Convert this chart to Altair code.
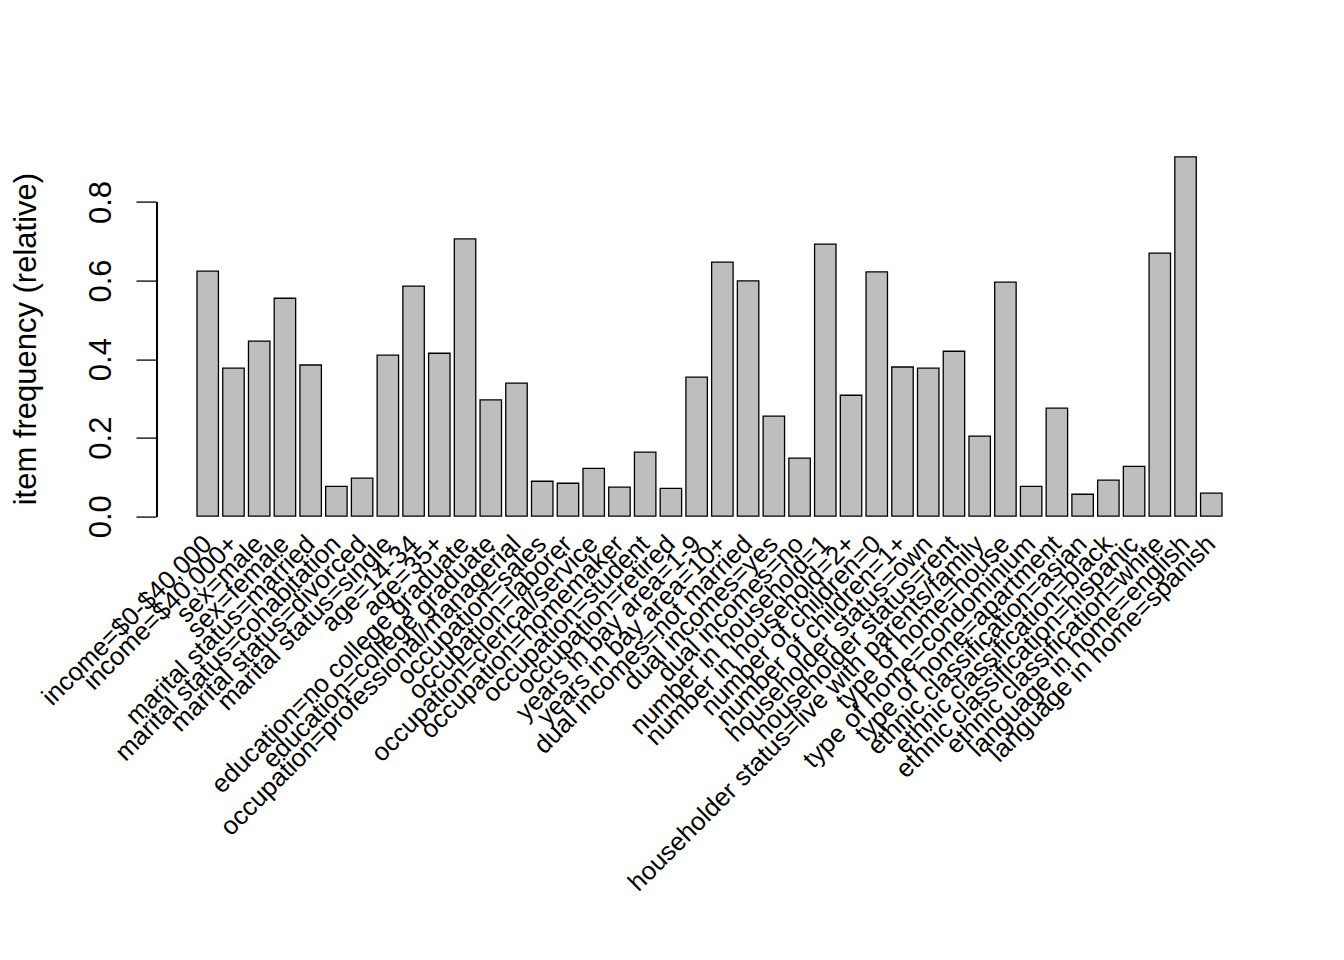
import altair as alt
import pandas as pd

items = [
    "income=$0-$40,000", "income=$40,000+", "sex=male", "sex=female",
    "marital status=married", "marital status=cohabitation", "marital status=divorced",
    "marital status=single", "age=14-34", "age=35+", "education=no college graduate",
    "education=college graduate", "occupation=professional/managerial", "occupation=sales",
    "occupation=laborer", "occupation=clerical/service", "occupation=homemaker",
    "occupation=student", "occupation=retired", "years in bay area=1-9",
    "years in bay area=10+", "dual incomes=not married", "dual incomes=yes",
    "dual incomes=no", "number in household=1", "number in household=2+",
    "number of children=0", "number of children=1+", "householder status=own",
    "householder status=rent", "householder status=live with parents/family",
    "type of home=house", "type of home=condominium", "type of home=apartment",
    "ethnic classification=asian", "ethnic classification=black",
    "ethnic classification=hispanic", "ethnic classification=white",
    "language in home=english", "language in home=spanish",
]
freq = [
    0.624, 0.377, 0.446, 0.555, 0.385, 0.076, 0.097, 0.410, 0.586, 0.415,
    0.706, 0.296, 0.339, 0.089, 0.084, 0.122, 0.074, 0.163, 0.071, 0.354,
    0.647, 0.599, 0.255, 0.148, 0.693, 0.308, 0.622, 0.380, 0.377, 0.420,
    0.204, 0.596, 0.076, 0.275, 0.056, 0.092, 0.127, 0.670, 0.915, 0.059,
]
y_ticks = [0.0, 0.2, 0.4, 0.6, 0.8]

df = pd.DataFrame({"item": items, "freq": freq})
FONT = "Liberation Sans"

ydom = [-0.0366, 0.9513]

bars = alt.Chart(df).mark_bar(
    fill="#BEBEBE", stroke="black", strokeWidth=1.3
).encode(
    x=alt.X(
        "item:N", sort=items, title=None,
        scale=alt.Scale(paddingInner=1/6, paddingOuter=0, range=[41, 1066]),
        axis=alt.Axis(
            labelAngle=-45, labelAlign="right", labelBaseline="middle",
            labelFontSize=25.7, labelFont=FONT, labelColor="black",
            labelPadding=9, labelLimit=2000, labelOverlap=False,
            ticks=False, tickSize=0, domain=False, grid=False,
        ),
    ),
    y=alt.Y(
        "freq:Q",
        scale=alt.Scale(domain=ydom, nice=False, zero=False),
        axis=alt.Axis(
            values=y_ticks, format=".1f", grid=False, domain=False,
            tickSize=20, tickColor="black", tickWidth=1.3,
            labelAngle=-90, labelAlign="center", labelBaseline="alphabetic",
            labelFontSize=31, labelFont=FONT, labelColor="black", labelPadding=26,
            title="item frequency (relative)", titleFontSize=31, titleFont=FONT,
            titleFontWeight="normal", titleColor="black", titleAngle=-90,
            titleAlign="center", titleBaseline="alphabetic",
            titleX=-120.5, titleY=196,
        ),
    ),
    y2=alt.datum(0),
)

axis_line = alt.Chart(df).mark_rule(color="black", strokeWidth=1.3).encode(
    x=alt.value(0.7),
    y=alt.datum(0.0),
    y2=alt.datum(0.8),
)

chart = alt.layer(bars, axis_line).properties(
    width=1107, height=388,
    autosize=alt.AutoSizeParams(type="none"),
    padding={"left": 148, "top": 134.6, "right": 73, "bottom": 420},
    background="white",
).configure_view(stroke=None)

chart.save("out.html", embed_options={"renderer": "svg", "actions": False})
